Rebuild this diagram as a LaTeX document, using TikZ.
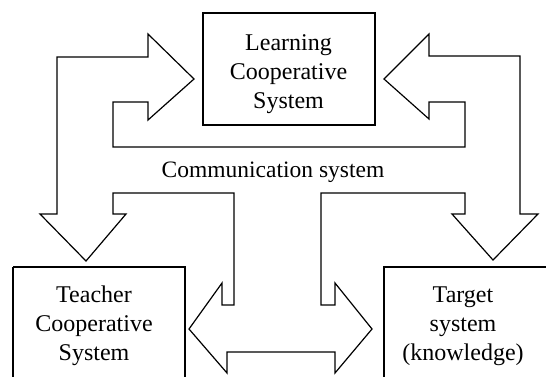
\documentclass[tikz,border=0pt]{standalone}
\usepackage{fontspec}
\setmainfont{Liberation Serif}
\begin{document}
\begin{tikzpicture}[x=1pt,y=-1pt,
  line/.style={draw=black,line width=1.2pt,line join=miter},
  boxtext/.style={align=center,inner sep=0pt,font=\fontsize{24}{29}\selectfont},
  labeltext/.style={inner sep=0pt,font=\fontsize{23.5}{28}\selectfont}]
\useasboundingbox (0,0) rectangle (546,376);
\clip (0,0) rectangle (546,376);
% boxes
\draw[line] (203,13) rectangle (375,125);
\node[boxtext] (learn) at (288.5,74.4) {Learning\\Cooperative\\System};
\draw[line] (13,267) -- (13,390) (13,267) -- (185,267) -- (185,390);
\node[boxtext] (teacher) at (94,325.4) {Teacher\\Cooperative\\System};
\draw[line] (384,390) -- (384,267) -- (560,267);
\node[boxtext] (target) at (463,326) {Target\\system\\(knowledge)};
% communication system outline
\draw[line] (57,57) -- (148,57) -- (148,34) -- (194,79) -- (148,120) -- (148,102)
  -- (113,102) -- (113,147) -- (465,147) -- (465,102) -- (429,102) -- (429,119)
  -- (384,79) -- (429,34) -- (429,56) -- (520,56) -- (520,214) -- (538,214)
  -- (493,260) -- (452,214) -- (465,214) -- (465,193) -- (321,193) -- (321,305)
  -- (335,305) -- (335,283) -- (372,329) -- (335,373) -- (335,352) -- (227,352)
  -- (227,373) -- (189,329) -- (222,283) -- (222,305) -- (234,305) -- (234,193)
  -- (113,193) -- (113,214) -- (126,214) -- (86,261) -- (40,214) -- (57,214) -- cycle;
\node[labeltext,anchor=base] (comm) at (273,177) {Communication system};
\end{tikzpicture}
\end{document}
